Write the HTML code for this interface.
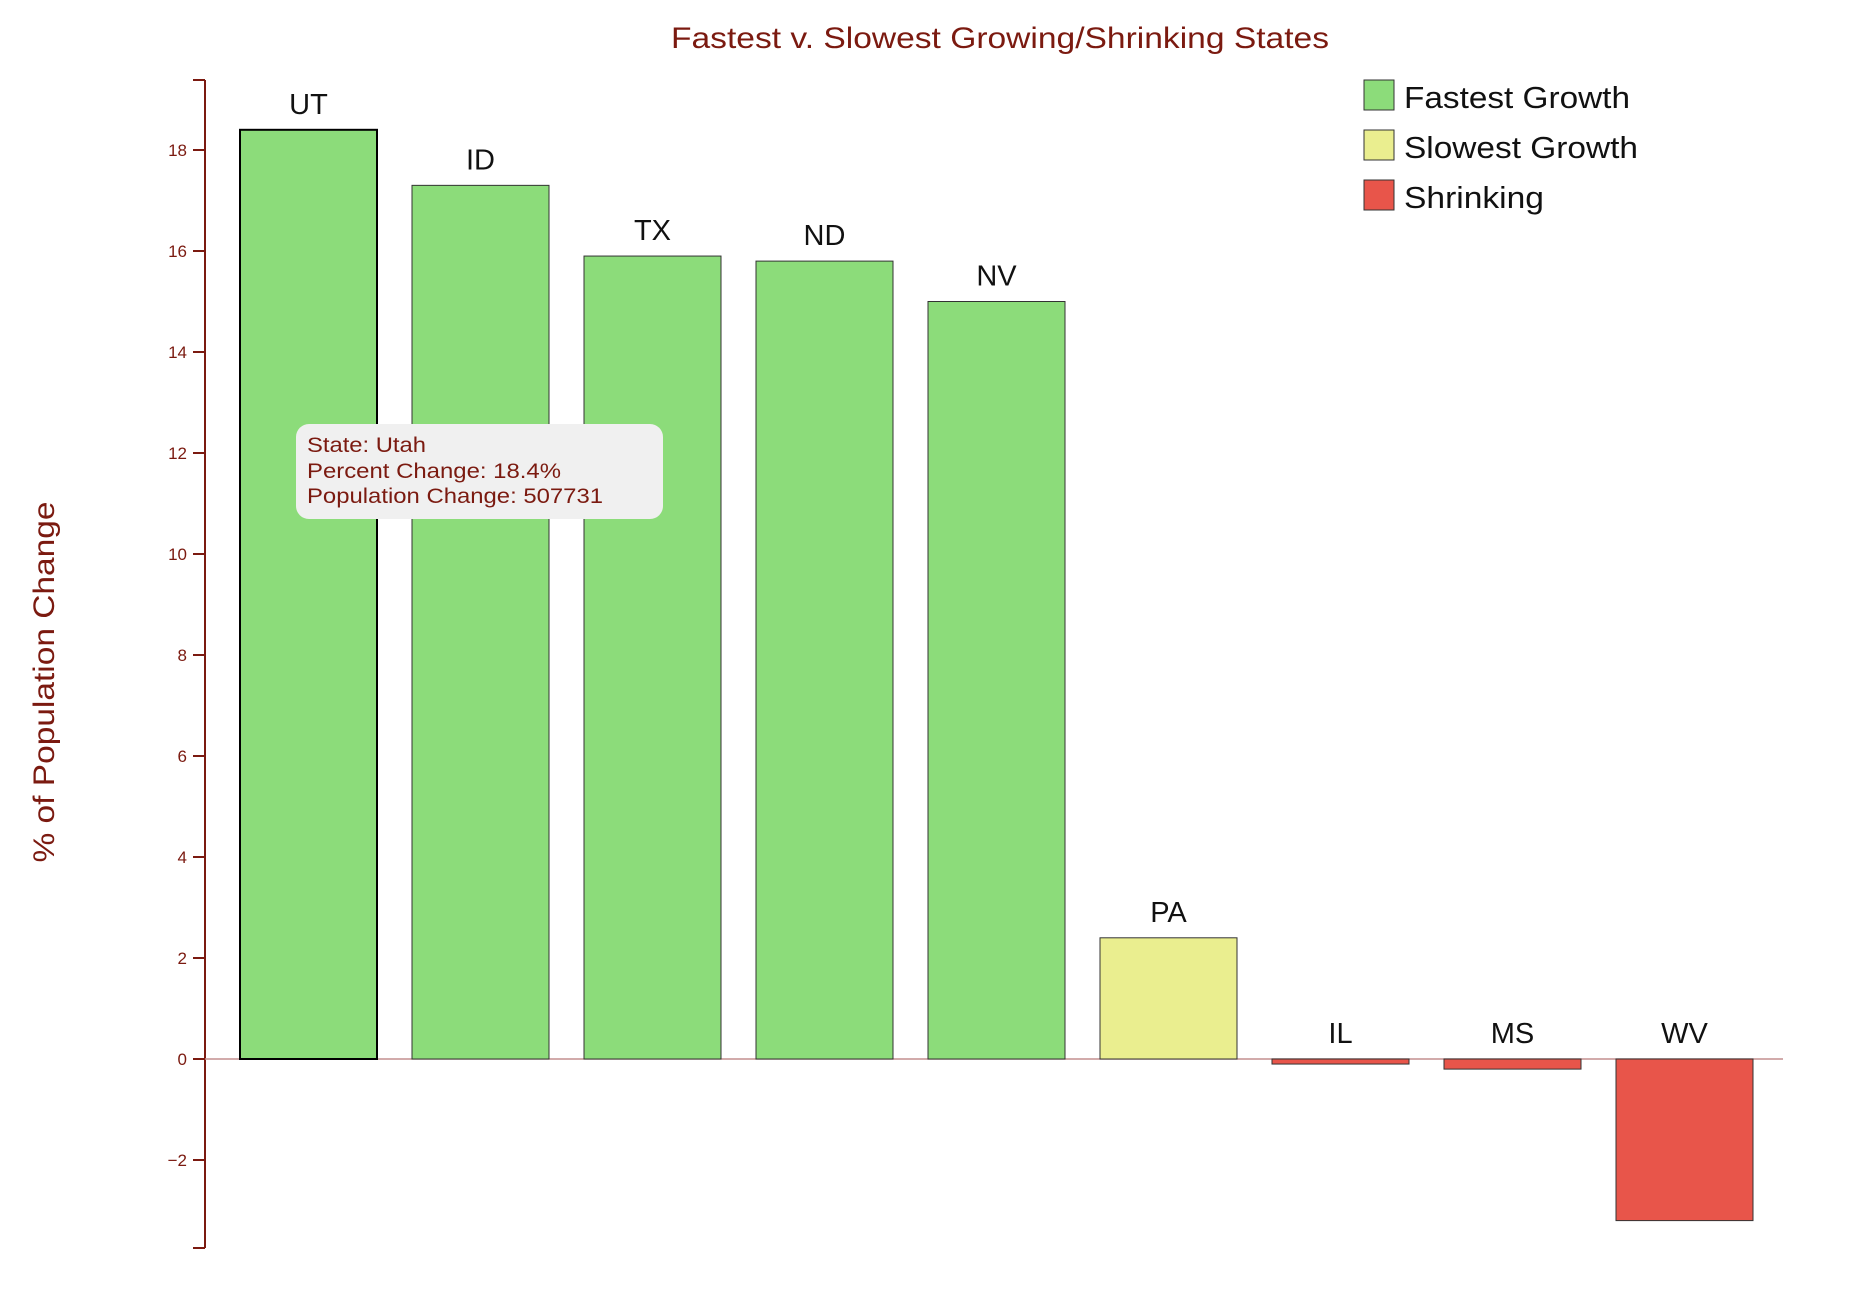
<!DOCTYPE html>
<html><head><meta charset="utf-8"><style>
body{margin:0;background:#fff;}
svg text{font-family:"Liberation Sans",sans-serif;}
</style></head><body>
<svg id="chart" width="1872" height="1290" xmlns="http://www.w3.org/2000/svg">
<text x="1000" y="48" text-anchor="middle" font-size="30" textLength="658" lengthAdjust="spacingAndGlyphs" fill="#7b1a10">Fastest v. Slowest Growing/Shrinking States</text>
<text transform="translate(54,682) rotate(-90)" text-anchor="middle" font-size="30" textLength="361" lengthAdjust="spacingAndGlyphs" fill="#7b1a10">% of Population Change</text>
<g id="axis"></g>
<g id="bars"></g>
<g>
<rect x="1364" y="80" width="30" height="30" fill="#8cdc7a" stroke="#333" stroke-width="1"/>
<text x="1404" y="108" font-size="31" textLength="226" lengthAdjust="spacingAndGlyphs" fill="#111">Fastest Growth</text>
<rect x="1364" y="130" width="30" height="30" fill="#eaee8f" stroke="#333" stroke-width="1"/>
<text x="1404" y="158" font-size="31" textLength="234" lengthAdjust="spacingAndGlyphs" fill="#111">Slowest Growth</text>
<rect x="1364" y="180" width="30" height="30" fill="#e8554a" stroke="#333" stroke-width="1"/>
<text x="1404" y="208" font-size="31" textLength="140" lengthAdjust="spacingAndGlyphs" fill="#111">Shrinking</text>
</g>
<g>
<rect x="296" y="424" width="367" height="95" rx="13" fill="#f0f0f0"/>
<text x="307" y="452" font-size="21" textLength="119" lengthAdjust="spacingAndGlyphs" fill="#7b1a10">State: Utah</text>
<text x="307" y="478" font-size="21" textLength="254" lengthAdjust="spacingAndGlyphs" fill="#7b1a10">Percent Change: 18.4%</text>
<text x="307" y="503" font-size="21" textLength="296" lengthAdjust="spacingAndGlyphs" fill="#7b1a10">Population Change: 507731</text>
</g>
</svg>
<script>
const states = ["UT","ID","TX","ND","NV","PA","IL","MS","WV"];
const values = [18.4,17.3,15.9,15.8,15.0,2.4,-0.1,-0.2,-3.2];
const groups = ["fast","fast","fast","fast","fast","slow","shrink","shrink","shrink"];
const ticks = [-2,0,2,4,6,8,10,12,14,16,18];
const NS="http://www.w3.org/2000/svg";
const colors={fast:"#8cdc7a",slow:"#eaee8f",shrink:"#e8554a"};
const y0=1059, k=50.5;
function y(v){return y0-v*k;}
function x(i){return 240+i*172;}
const bw=137;
function mk(tag,attrs,parent){const e=document.createElementNS(NS,tag);for(const a in attrs)e.setAttribute(a,attrs[a]);parent.appendChild(e);return e;}
const ax=document.getElementById('axis');
const line=mk('line',{x1:205,x2:205,y1:80,y2:1248,stroke:"#7b1a10","stroke-width":2},ax);


[80,1248].forEach(yy=>{const t=mk('line',{x1:193,x2:205,y1:yy,y2:yy,stroke:"#7b1a10","stroke-width":2},ax);

});
ticks.forEach(v=>{
 const t=mk('line',{x1:193,x2:205,y1:y(v),y2:y(v),stroke:"#7b1a10","stroke-width":2},ax);
 
 
 const l=mk('text',{x:187,y:y(v)+6,"text-anchor":"end","font-size":17,fill:"#7b1a10"},ax);
 l.textContent=v<0?"\u2212"+(-v):String(v);
 
 
});
const zl=mk('line',{x1:205,x2:1783,y1:y(0),y2:y(0),stroke:"#c48f8f","stroke-width":1.5},ax);


const bg=document.getElementById('bars');
states.forEach((s,i)=>{
 const v=values[i];
 const top=Math.min(y(v),y(0)), h=Math.abs(y(v)-y(0));
 const r=mk('rect',{x:x(i),y:top,width:bw,height:h,fill:colors[groups[i]],stroke:i===0?"#000":"#333","stroke-width":i===0?2:1},bg);
 
 
 const ly=(v>=0?y(v):y(0))-16;
 const t=mk('text',{x:x(i)+bw/2,y:ly,"text-anchor":"middle","font-size":29,fill:"#111"},bg);
 t.textContent=s;
 
 
});
</script>
</body></html>
